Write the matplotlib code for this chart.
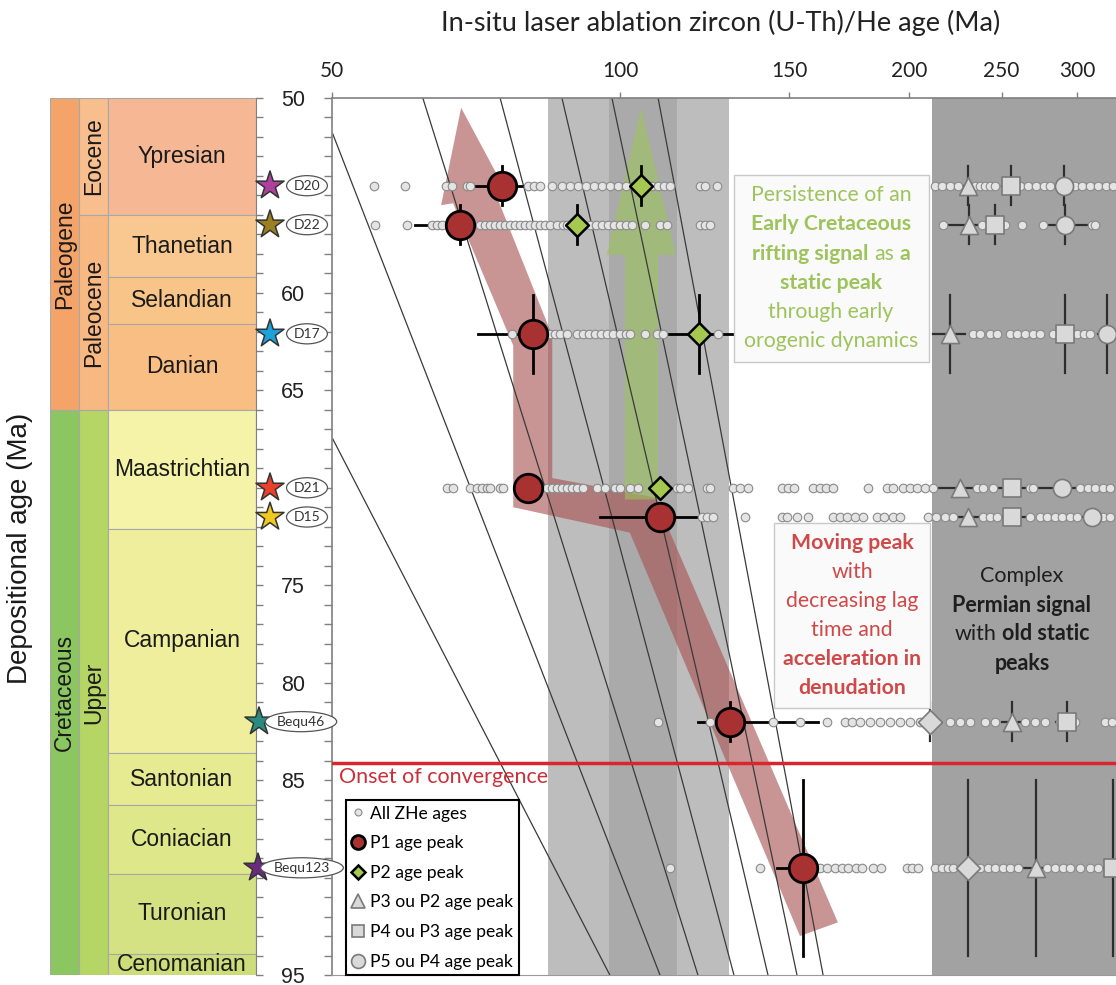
import numpy as np
import matplotlib.pyplot as plt
from matplotlib.patches import Rectangle, Polygon
from matplotlib.lines import Line2D
from matplotlib.ticker import MultipleLocator, NullLocator

plt.rcParams['font.family'] = ['Lato', 'DejaVu Sans']

# ---- stratigraphic column ----
stages = ['Ypresian', 'Thanetian', 'Selandian', 'Danian', 'Maastrichtian',
          'Campanian', 'Santonian', 'Coniacian', 'Turonian', 'Cenomanian']
stage_top = [50, 56.0, 59.2, 61.6, 66.0, 72.1, 83.6, 86.3, 89.8, 93.9]
stage_base = [56.0, 59.2, 61.6, 66.0, 72.1, 83.6, 86.3, 89.8, 93.9, 95]
stage_colors = ['#F6B794', '#F9C890', '#F9C488', '#F8BE84', '#F5F3A8',
                '#EEEE9C', '#E6EB92', '#DEE78A', '#D5E283', '#CCDD7A']
epochs = ['Eocene', 'Paleocene', 'Upper']
epoch_top = [50, 56.0, 66.0]
epoch_base = [56.0, 66.0, 95]
epoch_colors = ['#F8BE8E', '#F8B882', '#B5D564']
periods = ['Paleogene', 'Cretaceous']
period_top = [50, 66.0]
period_base = [66.0, 95]
period_colors = ['#F4A468', '#8CC660']

# ---- samples ----
samples = ['D20', 'D22', 'D17', 'D21', 'D15', 'Bequ46', 'Bequ123']
dep_age = [54.5, 56.5, 62.1, 70.0, 71.5, 82.0, 89.5]
dep_err = [1.0, 1.0, 2.0, 0.0, 0.0, 1.0, 4.5]
star_colors = ['#B0409E', '#9C7F1E', '#1EA0D8', '#E8402A', '#F0C820', '#2A8C80', '#6A2A80']

zhe_d20 = [55.3, 59.6, 65.8, 66.7, 69.2, 69.7, 80.1, 81.3, 82.4, 84.9, 86.9, 88.6, 90.3,
           92.1, 93.9, 95.7, 97.5, 99.4, 101.4, 103.3, 107.9, 109.5, 111.1, 112.7, 121.1,
           122.6, 126.2, 213.0, 216.7, 220.9, 225.2, 234.6, 237.4, 240.3, 243.2, 246.1,
           261.4, 266.4, 271.6, 276.9, 280.9, 298.3, 303.4, 309.2, 315.2, 321.4, 326.8]
zhe_d22 = [55.4, 59.9, 63.6, 64.4, 65.1, 71.4, 72.2, 73.1, 74.0, 74.9, 75.8, 76.7, 77.6,
           78.6, 79.5, 80.5, 81.5, 82.4, 83.4, 84.4, 85.9, 87.1, 88.0, 93.0, 94.3, 95.7,
           97.1, 98.5, 99.9, 101.4, 102.8, 106.1, 110.0, 111.9, 121.1, 122.6, 124.0,
           217.2, 238.5, 252.1, 262.6, 276.2, 310.7, 313.0]
zhe_d17 = [77.1, 84.4, 85.5, 86.5, 88.0, 90.1, 91.4, 92.7, 94.1, 95.5, 96.8, 98.3, 99.9,
           101.4, 102.3, 106.1, 109.2, 110.8, 126.5, 233.4, 237.4, 243.2, 247.3, 255.1,
           259.5, 264.5, 269.6, 274.2, 282.9, 299.7, 304.8, 309.2]
zhe_d21 = [65.9, 66.9, 69.7, 70.8, 71.7, 72.6, 73.1, 74.9, 75.4, 83.8, 84.9, 85.9, 86.9,
           88.0, 89.0, 90.1, 91.4, 94.5, 96.4, 98.7, 99.9, 102.3, 104.3, 114.6, 115.4,
           117.7, 123.2, 124.0, 131.1, 133.3, 135.9, 147.5, 149.6, 151.8, 158.9, 161.6,
           164.0, 166.7, 181.4, 189.8, 192.6, 197.3, 200.6, 204.0, 208.0, 212.0, 235.7,
           239.1, 244.9, 267.7, 269.6, 301.9, 307.8, 313.0, 319.1, 324.5]
zhe_d15 = [121.7, 123.2, 124.9, 134.9, 147.5, 149.3, 152.9, 157.0, 166.7, 169.6, 172.4,
           175.8, 179.2, 185.3, 188.5, 192.6, 195.9, 209.5, 213.6, 218.2, 222.5, 239.1,
           243.2, 247.3, 267.7, 274.2, 278.9, 284.3, 289.1, 294.7, 299.7, 319.1, 324.5]
zhe_bequ46 = [109.5, 124.0, 144.3, 154.0, 164.3, 171.6, 174.5, 177.9, 182.2, 186.7, 191.2,
              195.9, 200.6, 205.5, 220.9, 226.2, 231.8, 240.3, 246.1, 264.5, 270.9, 277.6,
              287.8, 298.3, 320.6, 326.0]
zhe_bequ123 = [112.7, 139.9, 161.6, 164.3, 167.5, 170.4, 172.8, 176.1, 178.8, 183.6, 187.0,
               199.2, 201.6, 204.5, 213.0, 216.7, 219.8, 222.5, 237.4, 242.0, 246.1, 250.9,
               255.1, 260.1, 278.9, 284.3, 289.8, 294.7, 301.9, 309.2, 315.2]
all_zhe = [zhe_d20, zhe_d22, zhe_d17, zhe_d21, zhe_d15, zhe_bequ46, zhe_bequ123]

# P1 peaks (all samples)
p1_age = [75.2, 68.0, 81.1, 80.1, 110.0, 130.2, 155.1]
p1_lo = [70.5, 61.0, 71.0, 80.1, 95.2, 120.5, 145.7]
p1_hi = [79.0, 70.0, 88.0, 80.1, 121.1, 160.8, 169.6]
# P2 peaks (D20, D22, D17, D21)
p2_idx = [0, 1, 2, 3]
p2_age = [105.1, 90.1, 120.8, 110.0]
p2_lo = [100.0, 87.7, 112.1, 110.0]
p2_hi = [110.0, 93.0, 131.7, 110.0]
# grey peaks
tri_idx = [0, 1, 2, 3, 4, 5, 6]
tri_age = [230.7, 231.2, 220.9, 226.2, 230.7, 256.4, 271.6]
tri_lo = [222.0, 217.0, 212.0, 213.0, 222.0, 250.0, 262.0]
tri_hi = [240.0, 238.0, 229.0, 238.0, 239.0, 262.0, 280.0]
sq_idx = [0, 1, 2, 3, 4, 5, 6]
sq_age = [255.8, 246.1, 291.2, 256.4, 256.4, 292.4, 326.8]
sq_lo = [250.0, 238.0, 283.0, 246.0, 247.0, 285.0, 315.0]
sq_hi = [262.0, 252.0, 299.0, 268.0, 268.0, 300.0, 330.0]
circ_idx = [0, 1, 2, 3, 4]
circ_age = [290.5, 291.2, 322.2, 289.1, 310.7]
circ_lo = [281.0, 276.0, 315.0, 268.0, 300.0]
circ_hi = [300.0, 313.0, 330.0, 300.0, 320.0]
dia_idx = [5, 6]
dia_age = [210.5, 230.7]
dia_lo = [205.0, 222.0]
dia_hi = [216.0, 240.0]

# shaded age ranges
light_band = (84.0, 130.0)
mid_band = (97.2, 114.6)
permian_band = (211.3, 400.0)
onset_age = 84.1

# lag lines: (age at start, dep at start) -> (age at end, dep at end)
lag_start_age = [50.1, 50.1, 62.2, 74.9, 86.9, 98.0, 109.5]
lag_start_dep = [67.5, 51.85, 50, 50, 50, 50, 50]
lag_end_age = [97.5, 110.0, 120.5, 131.4, 142.6, 152.9, 162.8]
lag_end_dep = [95, 95, 95, 95, 95, 95, 95]

# arrows (age, depositional age)
red_arrow_age = [68.2, 75.4, 73.8, 84.9, 84.9, 108.7, 168.7, 154.0, 102.3, 77.3, 77.3, 66.9, 65.0]
red_arrow_dep = [50.5, 54.5, 54.7, 62.2, 69.5, 70.5, 92.3, 93.0, 72.3, 71.0, 62.7, 55.4, 55.5]
green_arrow_age = [105.1, 114.3, 109.5, 109.5, 101.1, 101.1, 96.8]
green_arrow_dep = [50.5, 58.05, 58.05, 70.6, 70.6, 58.05, 58.05]

top_ticks = [50, 100, 150, 200, 250, 300]
y_ticks = [50, 55, 60, 65, 70, 75, 80, 85, 90, 95]
y_tick_labels = ['50', '', '60', '65', '', '75', '80', '85', '', '95']

W, H = 1116, 985
fig = plt.figure(figsize=(W / 100, H / 100), dpi=100)


def px_box(x0, y0, x1, y1):
    return [x0 / W, 1 - y1 / H, (x1 - x0) / W, (y1 - y0) / H]


# ---------------- main panel ----------------
ax = fig.add_axes(px_box(332, 98, 1116, 975))
ax.set_xscale('log')
ax.set_xlim(50, 329.2)
ax.set_ylim(95, 50)

ax.axvspan(*light_band, color='#BDBDBD', lw=0, zorder=0.5)
ax.axvspan(*mid_band, color='#AAAAAA', lw=0, zorder=0.6)
ax.axvspan(*permian_band, color='#A2A2A2', lw=0, zorder=0.5)

ax.add_patch(Polygon(np.column_stack([red_arrow_age, red_arrow_dep]), closed=True,
                     facecolor='#A85252', alpha=0.62, lw=0, zorder=1))
ax.add_patch(Polygon(np.column_stack([green_arrow_age, green_arrow_dep]), closed=True,
                     facecolor='#9CC45A', alpha=0.6, lw=0, zorder=1))

for xa, ya, xb, yb in zip(lag_start_age, lag_start_dep, lag_end_age, lag_end_dep):
    ax.plot([xa, xb], [ya, yb], color='#3A3A3A', lw=0.9, zorder=2)

ax.axhline(onset_age, color='#D7262E', lw=2.5, zorder=3)
ax.text(50.8, onset_age + 0.22, 'Onset of convergence', color='#C9303A', fontsize=15.5,
        va='top', ha='left', zorder=7)

# all ZHe ages
for dots, y in zip(all_zhe, dep_age):
    ax.scatter(dots, [y] * len(dots), s=38, facecolor='#E4E4E4', edgecolor='#8A8A8A',
               lw=0.8, zorder=5)


def peak_bars(idx, ages, lo, hi, color, lw):
    for i, a, l, h in zip(idx, ages, lo, hi):
        y = dep_age[i]
        if h > l:
            ax.plot([l, h], [y, y], color=color, lw=lw, zorder=4)
        if dep_err[i] > 0:
            ax.plot([a, a], [y - dep_err[i], y + dep_err[i]], color=color, lw=lw, zorder=4)


idx_all = list(range(len(samples)))
peak_bars(idx_all, p1_age, p1_lo, p1_hi, 'black', 2.0)
peak_bars(p2_idx, p2_age, p2_lo, p2_hi, 'black', 2.0)
peak_bars(tri_idx, tri_age, tri_lo, tri_hi, '#2E2E2E', 1.6)
peak_bars(sq_idx, sq_age, sq_lo, sq_hi, '#2E2E2E', 1.6)
peak_bars(circ_idx, circ_age, circ_lo, circ_hi, '#2E2E2E', 1.6)
peak_bars(dia_idx, dia_age, dia_lo, dia_hi, '#2E2E2E', 1.6)

grey_kw = dict(facecolor='#D9D9D9', edgecolor='#7A7A7A', lw=1.2, zorder=6)
ax.scatter(tri_age, [dep_age[i] for i in tri_idx], marker='^', s=170, **grey_kw)
ax.scatter(sq_age, [dep_age[i] for i in sq_idx], marker='s', s=150, **grey_kw)
ax.scatter(circ_age, [dep_age[i] for i in circ_idx], marker='o', s=170, **grey_kw)
ax.scatter(dia_age, [dep_age[i] for i in dia_idx], marker='D', s=150, **grey_kw)
ax.scatter(p2_age, [dep_age[i] for i in p2_idx], marker='D', s=135, facecolor='#A4C850',
           edgecolor='black', lw=1.8, zorder=7)
ax.scatter(p1_age, dep_age, marker='o', s=420, facecolor='#A83232', edgecolor='black',
           lw=2.0, zorder=7)

# axes styling
ax.xaxis.set_ticks_position('top')
ax.set_xticks(top_ticks)
ax.set_xticklabels([str(t) for t in top_ticks])
ax.xaxis.set_minor_locator(NullLocator())
ax.tick_params(axis='x', direction='out', length=4.5, width=1, color='#808080',
               labelsize=15, pad=8, labelcolor='#222222')
ax.set_yticks(y_ticks)
ax.set_yticklabels(y_tick_labels)
ax.yaxis.set_minor_locator(MultipleLocator(1))
ax.tick_params(axis='y', which='both', direction='out', length=5.8, width=1,
               color='#808080', labelsize=15.5, pad=13.5, labelcolor='#222222')
for lbl in ax.get_yticklabels():
    lbl.set_family('Liberation Sans')
ax.spines['right'].set_visible(False)
for s in ['top', 'left']:
    ax.spines[s].set_color('#808080')
    ax.spines[s].set_linewidth(1.2)
ax.spines['bottom'].set_color('#9A9A9A')

handles = [
    Line2D([], [], ls='none', marker='o', ms=5, mfc='#E4E4E4', mec='#8A8A8A', mew=0.8),
    Line2D([], [], ls='none', marker='o', ms=10, mfc='#A83232', mec='black', mew=2),
    Line2D([], [], ls='none', marker='D', ms=7.5, mfc='#A4C850', mec='black', mew=1.8),
    Line2D([], [], ls='none', marker='^', ms=10, mfc='#D9D9D9', mec='#7A7A7A', mew=1.2),
    Line2D([], [], ls='none', marker='s', ms=9, mfc='#D9D9D9', mec='#7A7A7A', mew=1.2),
    Line2D([], [], ls='none', marker='o', ms=10, mfc='#D9D9D9', mec='#7A7A7A', mew=1.2),
]
labels = ['All ZHe ages', 'P1 age peak', 'P2 age peak', 'P3 ou P2 age peak',
          'P4 ou P3 age peak', 'P5 ou P4 age peak']
leg = ax.legend(handles, labels, loc='lower left', bbox_to_anchor=(14 / 784, 0),
                borderaxespad=0, frameon=True, fancybox=False, edgecolor='black',
                framealpha=1, prop={'size': 12.6}, handlelength=0.8, handletextpad=0.3,
                labelspacing=0.78, borderpad=0.3)
leg.get_frame().set_linewidth(1.5)
leg.set_zorder(20)

# ---------------- stratigraphic column ----------------
axc = fig.add_axes(px_box(50, 98, 256, 975))
axc.set_xlim(0, 206)
axc.set_ylim(95, 50)
col_kw = dict(edgecolor='#A8A8A8', lw=0.8)
for name, t, b, c in zip(periods, period_top, period_base, period_colors):
    axc.add_patch(Rectangle((0, t), 29, b - t, facecolor=c, **col_kw))
    axc.text(14.5, (t + b) / 2, name, rotation=90, ha='center', va='center',
             fontsize=16.5, family='Liberation Sans', color='#1A1A1A')
for name, t, b, c in zip(epochs, epoch_top, epoch_base, epoch_colors):
    axc.add_patch(Rectangle((29, t), 29, b - t, facecolor=c, **col_kw))
    axc.text(43.5, (t + b) / 2, name, rotation=90, ha='center', va='center',
             fontsize=16.5, family='Liberation Sans', color='#1A1A1A')
for name, t, b, c in zip(stages, stage_top, stage_base, stage_colors):
    axc.add_patch(Rectangle((58, t), 148, b - t, facecolor=c, **col_kw))
    axc.text(132, (t + b) / 2, name, ha='center', va='center',
             fontsize=16.5, family='Liberation Sans', color='#1A1A1A')
for s in ['top', 'left', 'bottom']:
    axc.spines[s].set_visible(False)
axc.spines['right'].set_color('#808080')
axc.set_xticks([])
axc.yaxis.set_ticks_position('right')
axc.yaxis.set_major_locator(MultipleLocator(5))
axc.yaxis.set_minor_locator(MultipleLocator(1))
axc.tick_params(axis='y', which='both', direction='out', length=5, width=1,
                color='#808080', labelright=False, labelleft=False)

# ---------------- sample stars ----------------
star_x = [270, 270, 270, 270, 270, 259, 258]
label_x = [307, 307, 307, 307, 307, 301, 302]
axs = fig.add_axes(px_box(236, 98, 334, 975))
axs.set_xlim(236, 334)
axs.set_ylim(95, 50)
axs.axis('off')
axs.set_zorder(10)
axs.scatter(star_x, dep_age, marker='*', s=450, c=star_colors, edgecolors='#333333',
            linewidths=1.1, zorder=3)
for name, lx, y in zip(samples, label_x, dep_age):
    axs.text(lx, y, name, ha='center', va='center', fontsize=10, color='#333333',
             bbox=dict(boxstyle='ellipse,pad=0.08', facecolor='white',
                       edgecolor='#555555', lw=0.9), zorder=4)

# ---------------- titles ----------------
fig.text(721 / W, 1 - 23 / H, 'In-situ laser ablation zircon (U-Th)/He age (Ma)',
         ha='center', va='center', fontsize=19.5, color='#222222')
fig.text(20 / W, 1 - 548 / H, 'Depositional age (Ma)', rotation=90, ha='center',
         va='center', fontsize=20, family='Liberation Sans', color='#1A1A1A')

# ---------------- annotation boxes ----------------
renderer = fig.canvas.get_renderer()


def rich_line(xc, yc, parts, color, size):
    objs = [fig.text(0, 0, s, fontsize=size, fontweight=w, color=color, ha='left',
                     va='center', zorder=12) for s, w in parts]
    widths = [t.get_window_extent(renderer).width for t in objs]
    sp = size * 0.26 * 100 / 72
    x = xc - (sum(widths) + sp * (len(objs) - 1)) / 2
    for t, wd in zip(objs, widths):
        t.set_position((x / W, 1 - yc / H))
        x += wd + sp


def box(x0, y0, x1, y1):
    fig.add_artist(Rectangle((x0 / W, 1 - y1 / H), (x1 - x0) / W, (y1 - y0) / H,
                             transform=fig.transFigure, facecolor='#FAFAFA',
                             edgecolor='#C8C8C8', lw=1, zorder=11))


green_lines = [[('Persistence of an', 'normal')],
               [('Early Cretaceous', 'bold')],
               [('rifting signal', 'bold'), ('as', 'normal'), ('a', 'bold')],
               [('static peak', 'bold')],
               [('through early', 'normal')],
               [('orogenic dynamics', 'normal')]]
red_lines = [[('Moving peak', 'bold')],
             [('with', 'normal')],
             [('decreasing lag', 'normal')],
             [('time and', 'normal')],
             [('acceleration in', 'bold')],
             [('denudation', 'bold')]]
black_lines = [[('Complex', 'normal')],
               [('Permian signal', 'bold')],
               [('with', 'normal'), ('old static', 'bold')],
               [('peaks', 'bold')]]

box(734, 175, 929, 362)
for k, parts in enumerate(green_lines):
    rich_line(831, 195 + 29.3 * k, parts, '#9DC35B', 15.3)
box(774, 523, 930, 708)
for k, parts in enumerate(red_lines):
    rich_line(852, 543 + 29 * k, parts, '#D04848', 15.3)
for k, parts in enumerate(black_lines):
    rich_line(1022, 576 + 29 * k, parts, '#1E1E1E', 15.5)

plt.savefig('out.png', dpi=100)
